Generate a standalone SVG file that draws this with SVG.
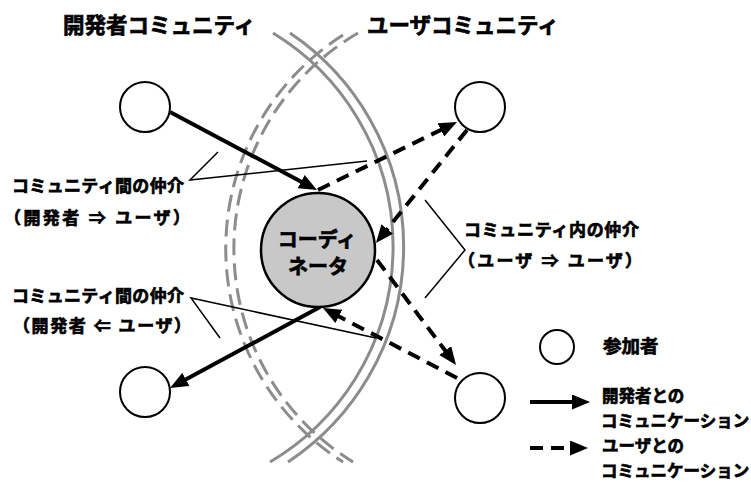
<svg xmlns="http://www.w3.org/2000/svg" width="751" height="483" viewBox="0 0 751 483">
<defs>
<style>
.t{font-family:"Liberation Sans","Noto Sans CJK JP",sans-serif;font-weight:bold;fill:#000;stroke:#000;stroke-width:0.7}
.arc{fill:none;stroke:#8c8c8c;stroke-width:3}
.arcd{fill:none;stroke:#8c8c8c;stroke-width:3;stroke-dasharray:17 8}
.p{fill:#fff;stroke:#000;stroke-width:2}
.solid{fill:none;stroke:#000;stroke-width:4;marker-end:url(#ah)}
.dash{fill:none;stroke:#000;stroke-width:4;stroke-dasharray:13 8;marker-end:url(#ah)}
.call{fill:none;stroke:#000;stroke-width:1.5}
</style>
<marker id="ah" markerUnits="userSpaceOnUse" viewBox="0 0 18 15" markerWidth="18" markerHeight="15" refX="6" refY="7.5" orient="auto">
<path d="M0,0 L18,7.5 L0,15 z" fill="#000"/>
</marker>
</defs>
<rect width="751" height="483" fill="#fff"/>

<g id="titles">
<text class="t" x="63" y="33" font-size="21.5">開発者コミュニティ</text>
<text class="t" x="367" y="33" font-size="21.5">ユーザコミュニティ</text>
</g>

<g id="boundaries">
<path class="arc" d="M273 33 A250 250 0 0 1 270 462"/>
<path class="arc" d="M290 33 A258 258 0 0 1 288 462"/>
<path class="arcd" d="M343 35 A253 253 0 0 0 343 462"/>
<path class="arcd" d="M358 33 A250 250 0 0 0 353 462"/>
</g>

<g id="callouts">
<polyline class="call" points="218,152 190,180 367,161"/>
<polyline class="call" points="220,338 191,298 376,338"/>
<polyline class="call" points="425,200 465,250 425,298"/>
</g>

<g id="connectors">
<line class="solid" x1="170" y1="112" x2="306.4" y2="184.4"/>
<line class="solid" x1="320" y1="307" x2="180.6" y2="382.3"/>
<line class="dash" x1="318" y1="190" x2="446.2" y2="127.3"/>
<line class="dash" x1="467" y1="130" x2="383.5" y2="233.7"/>
<line class="dash" x1="377" y1="260" x2="448.8" y2="355.4"/>
<line class="dash" x1="457" y1="378" x2="333.6" y2="313.6"/>
</g>

<g id="node-dev-top"><circle class="p" cx="145" cy="107" r="25"/></g>
<g id="node-user-top"><circle class="p" cx="480" cy="107" r="25"/></g>
<g id="node-dev-bottom"><circle class="p" cx="145" cy="392" r="25"/></g>
<g id="node-user-bottom"><circle class="p" cx="480" cy="398" r="25"/></g>

<g id="node-coordinator">
<circle cx="318" cy="250" r="57" fill="#c8c8c8" stroke="#000" stroke-width="2.5"/>
<text class="t" x="317" y="247" font-size="20" text-anchor="middle">コーディ</text>
<text class="t" x="318" y="274" font-size="20" text-anchor="middle">ネータ</text>
</g>

<g id="labels">
<text class="t" x="12" y="192" font-size="17" textLength="172" lengthAdjust="spacing">コミュニティ間の仲介</text>
<text class="t" x="4" y="224" font-size="17" textLength="186" lengthAdjust="spacing">（開発者 ⇒ ユーザ）</text>
<text class="t" x="12" y="302" font-size="17" textLength="172" lengthAdjust="spacing">コミュニティ間の仲介</text>
<text class="t" x="13" y="332" font-size="17" textLength="178" lengthAdjust="spacing">（開発者 ⇐ ユーザ）</text>
<text class="t" x="464" y="236" font-size="17" textLength="175" lengthAdjust="spacing">コミュニティ内の仲介</text>
<text class="t" x="458" y="267" font-size="17" textLength="184" lengthAdjust="spacing">（ユーザ ⇒ ユーザ）</text>
</g>

<g id="legend">
<circle class="p" cx="557" cy="347" r="17"/>
<text class="t" x="603" y="353" font-size="18.5">参加者</text>
<line class="solid" x1="530" y1="402" x2="578" y2="402"/>
<text class="t" x="602" y="402" font-size="16.5">開発者との</text>
<text class="t" x="601" y="427" font-size="16.5">コミュニケーション</text>
<line class="dash" x1="530" y1="448" x2="576" y2="448"/>
<text class="t" x="602" y="452" font-size="16.5">ユーザとの</text>
<text class="t" x="601" y="477" font-size="16.5">コミュニケーション</text>
</g>
</svg>
